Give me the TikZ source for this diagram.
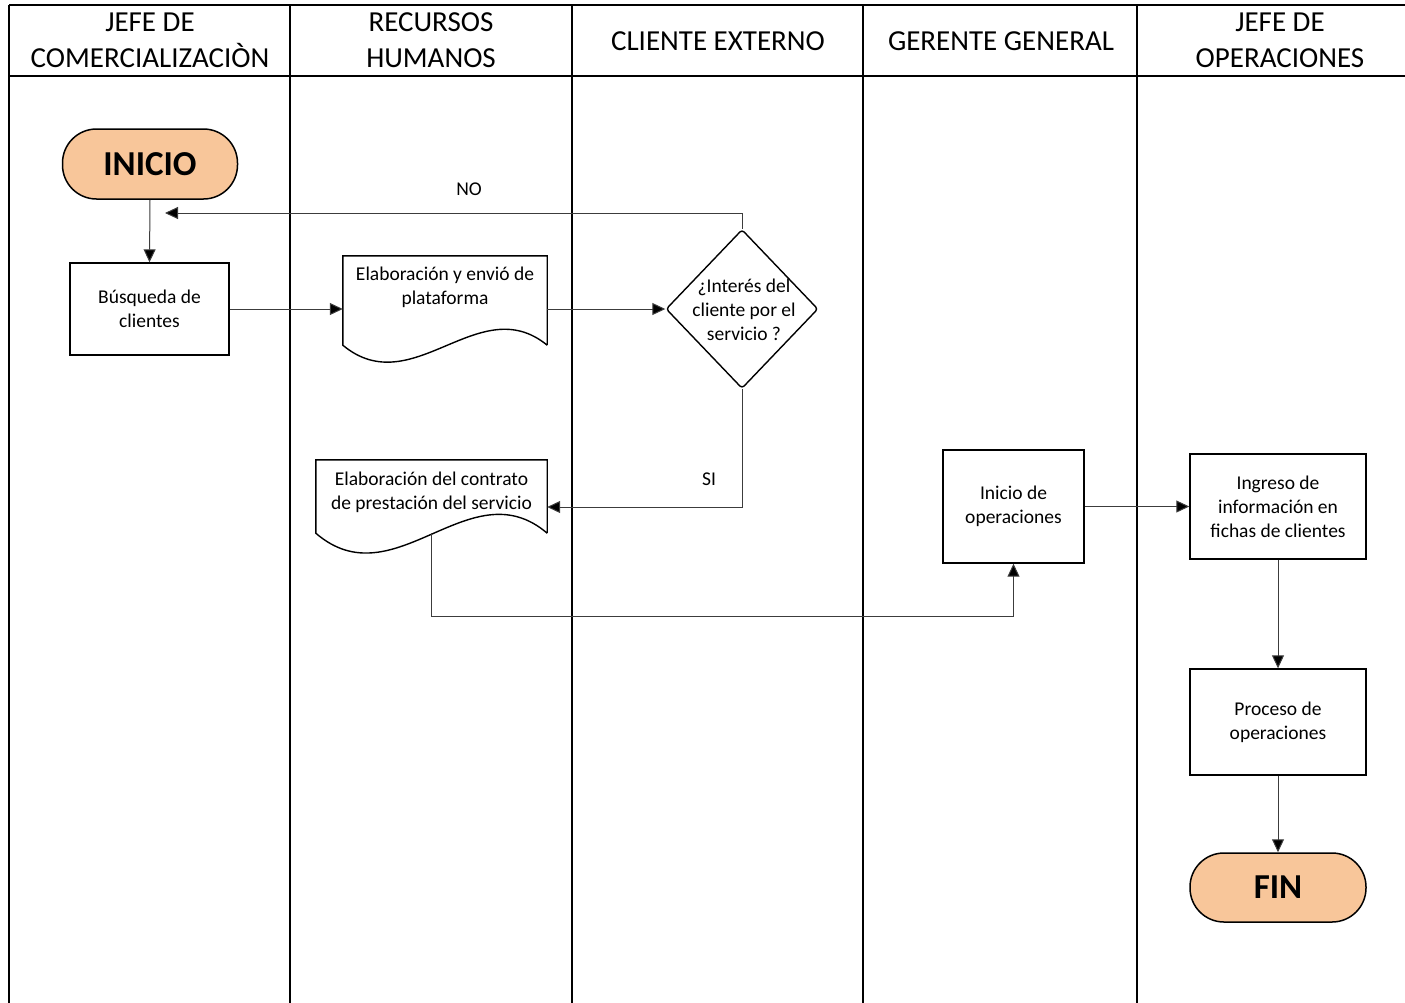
\documentclass[tikz,border=0pt]{standalone}
\usepackage{fontspec}
\setmainfont{Carlito}
\usetikzlibrary{shapes.geometric,arrows.meta,calc}
\definecolor{peach}{HTML}{F8C69A}
\definecolor{flowgray}{HTML}{3C3C3C}
\begin{document}
\begin{tikzpicture}[x=1pt,y=-1pt,
  lane/.style={line width=2.4pt},
  head/.style={font=\fontsize{29}{36}\selectfont, align=center, inner sep=0},
  txt/.style={font=\fontsize{19.5}{24}\selectfont, align=center, inner sep=0},
  box/.style={txt, draw, line width=1.4pt, rectangle},
  term/.style={draw, line width=1.5pt, fill=peach, rectangle, rounded corners=34pt,
    inner sep=0, font=\bfseries\fontsize{35}{35}\selectfont},
  docline/.style={draw, line width=1.4pt},
  flow/.style={draw=flowgray, line width=1pt, -{Triangle[length=13pt,width=12pt,fill=black]}}
]
\useasboundingbox (0,0) rectangle (1405,1002);
\clip (0,0) rectangle (1405,1002);

% swimlane grid
\draw[lane] (9,5) -- (1425,5);
\draw[lane] (9,76) -- (1425,76);
\foreach \x in {9,290,572,863,1137} \draw[lane] (\x,5) -- (\x,1010);

% lane titles
\node[head] (h1) at (150,40) {JEFE DE\\COMERCIALIZACIÒN};
\node[head] (h2) at (431,40) {RECURSOS\\HUMANOS};
\node[head] (h3) at (718,41) {CLIENTE EXTERNO};
\node[head] (h4) at (1001,41) {GERENTE GENERAL};
\node[head] (h5) at (1280,40) {JEFE DE\\OPERACIONES};

% terminals and process boxes
\node[term, minimum width=175, minimum height=70] (ini) at (150,164) {INICIO};
\node[box, minimum width=159, minimum height=92] (bus) at (149.5,309) {Búsqueda de\\clientes};
\node[box, minimum width=141, minimum height=113] (iop) at (1013.5,506.5) {Inicio de\\operaciones};
\node[box, minimum width=176, minimum height=105] (ing) at (1278,506.5) {Ingreso de\\información en\\fichas de clientes};
\node[box, minimum width=176, minimum height=106] (pro) at (1278,722) {Proceso de\\operaciones};
\node[term, minimum width=176, minimum height=69] (fin) at (1278,887.5) {FIN};

% document shapes
\node[minimum width=204, minimum height=89, inner sep=0] (d1) at (445,300.5) {};
\draw[docline] (d1.south east) -- (d1.north east) -- (d1.north west) -- (d1.south west)
  .. controls ($(d1.south west)+(70,58)$) and ($(d1.south west)+(136,-56)$) .. (d1.south east);
\node[txt] (d1t) at (445,287) {Elaboración y envió de\\plataforma};

\node[minimum width=231, minimum height=73, inner sep=0] (d2) at (431.5,496.5) {};
\draw[docline] (d2.south east) -- (d2.north east) -- (d2.north west) -- (d2.south west)
  .. controls ($(d2.south west)+(79,68)$) and ($(d2.south west)+(154,-66)$) .. (d2.south east);
\node[txt] (d2t) at (431.5,492) {Elaboración del contrato\\de prestación del servicio};

% decision
\node[diamond, draw, line width=1.4pt, rounded corners=3pt, minimum width=152,
  minimum height=159, inner sep=0] (dia) at (742,309) {};
\node[txt] (diat) at (744,310) {¿Interés del\\cliente por el\\servicio ?};

% connectors
\coordinate (notip) at (165,213);
\coordinate (sitip) at ($(d2.east)+(0,10.5)$);
\draw[flow] (ini.south) -- (bus.north);
\draw[flow] (bus.east) -- (bus.east -| d1.west);
\draw[flow] (dia.west -| d1.east) -- (dia.west);
\draw[flow] (dia.north) |- (notip);
\draw[flow] (dia.south) |- (sitip);
\draw[flow] (d2.south) -- ++(0,83) -| (iop.south);
\draw[flow] (iop.east) -- (ing.west);
\draw[flow] (ing.south) -- (pro.north);
\draw[flow] (pro.south) -- (fin.north);

% branch labels
\node[txt] (lno) at (469,189) {NO};
\node[txt] (lsi) at (709,479) {SI};
\end{tikzpicture}
\end{document}
